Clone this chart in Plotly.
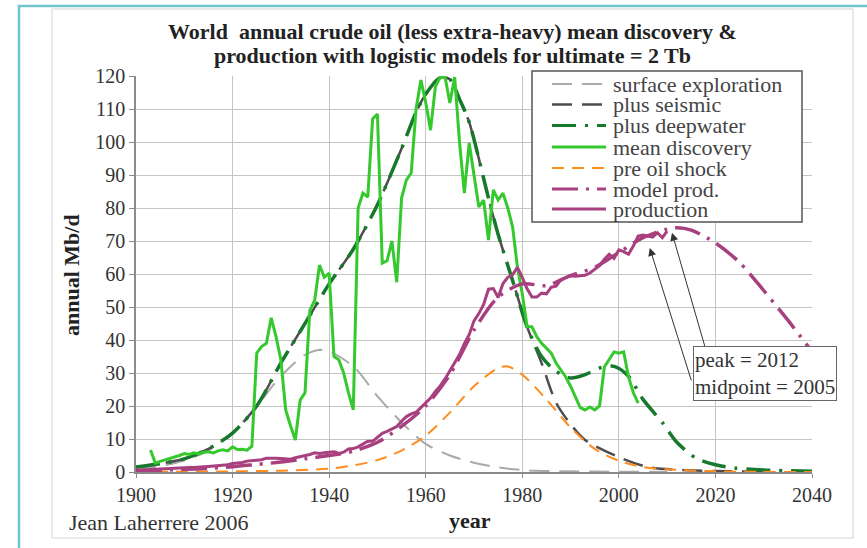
import plotly.graph_objects as go

# ---------------- data ----------------
# logistic model: surface exploration (Mb/d)
surf_years = [1900, 1905, 1910, 1915, 1920, 1925, 1930, 1935, 1939, 1945, 1950, 1955,
              1960, 1965, 1970, 1975, 1980, 1990, 2000, 2010]
surf_vals = [1.0, 1.8, 3.5, 6.5, 12.0, 20.0, 29.0, 35.5, 37.0, 32.0, 23.0, 15.0,
             8.5, 5.0, 2.8, 1.4, 0.6, 0.2, 0.1, 0.05]

# logistic model: plus seismic
seis_years = [1900, 1905, 1910, 1915, 1920, 1925, 1930, 1935, 1940, 1945, 1950, 1955,
              1958, 1960, 1963, 1965, 1967, 1969, 1973, 1975, 1978, 1981, 1984, 1987,
              1990, 1993, 2000, 2006, 2013, 2020, 2030]
seis_vals = [1.5, 2.5, 4.0, 7.0, 11.8, 20.0, 33.0, 45.0, 57.0, 67.5, 81.0, 98.0,
             109.0, 114.5, 119.5, 119.0, 113.0, 106.0, 83.0, 72.0, 58.0, 44.0, 33.0, 21.0,
             14.5, 9.7, 4.5, 1.5, 0.6, 0.3, 0.1]

# logistic model: plus deepwater
deep_years = [1900, 1905, 1910, 1915, 1920, 1925, 1930, 1935, 1940, 1945, 1950, 1955,
              1958, 1960, 1963, 1965, 1967, 1969, 1973, 1975, 1978, 1981, 1984, 1987,
              1990, 1993, 1996, 1999, 2002, 2005, 2009, 2012, 2016, 2020, 2024, 2030, 2040]
deep_vals = [1.5, 2.5, 4.0, 7.0, 11.8, 20.0, 33.0, 45.0, 57.0, 67.5, 81.0, 98.0,
             109.0, 114.5, 119.5, 119.0, 113.0, 106.0, 83.0, 72.0, 58.0, 44.0, 35.0, 30.5,
             28.5, 29.5, 31.5, 32.0, 29.0, 22.0, 15.0, 9.0, 4.2, 2.2, 1.2, 0.6, 0.2]

# mean discovery, yearly
disc_years = list(range(1903, 2005))
disc_vals = [6.7, 2.7, 3.2, 3.6, 4.2, 4.6, 5.0, 5.6, 5.3, 5.8,
             5.5, 6.0, 6.1, 5.8, 6.4, 6.7, 6.4, 7.6, 6.8, 6.9,
             6.6, 7.8, 36.0, 38.0, 39.0, 46.7, 41.0, 34.0, 18.8, 14.0,
             9.7, 21.8, 24.0, 49.0, 52.0, 62.7, 59.0, 60.3, 35.0, 34.0,
             30.0, 24.0, 18.8, 80.0, 84.5, 83.3, 107.0, 108.5, 63.3, 64.0,
             70.0, 57.5, 83.0, 88.5, 90.6, 110.0, 118.8, 112.0, 103.6, 116.7,
             119.7, 119.7, 111.8, 119.7, 100.0, 84.5, 99.7, 90.0, 80.3, 82.4,
             70.3, 85.5, 82.4, 84.5, 80.0, 74.2, 62.0, 54.0, 44.0, 44.0,
             41.0, 39.0, 37.5, 36.0, 33.0, 31.0, 28.8, 26.0, 23.0, 19.5,
             18.8, 19.7, 18.8, 20.0, 31.8, 34.0, 36.4, 36.0, 36.4, 28.8,
             24.0, 20.9]

# pre oil shock model
pre_years = [1900, 1910, 1920, 1930, 1940, 1945, 1950, 1955, 1960, 1965, 1970, 1975,
             1977, 1980, 1985, 1990, 1995, 2000, 2005, 2010, 2020, 2030, 2040]
pre_vals = [0.05, 0.1, 0.2, 0.4, 1.0, 2.0, 3.6, 6.5, 11.0, 18.0, 26.0, 31.5,
            32.0, 29.5, 22.0, 13.5, 7.0, 3.4, 1.5, 0.8, 0.2, 0.05, 0.0]

# model production
model_years = [1900, 1905, 1910, 1915, 1920, 1925, 1930, 1935, 1940, 1945, 1950, 1955,
               1960, 1965, 1970, 1975, 1980, 1985, 1990, 1995, 2000, 2005, 2010, 2012,
               2015, 2020, 2025, 2030, 2035, 2040]
model_vals = [0.3, 0.5, 0.8, 1.1, 1.6, 2.3, 3.0, 4.0, 5.0, 6.3, 9.0, 13.8,
              20.0, 29.5, 43.0, 53.0, 57.0, 56.5, 59.5, 62.0, 66.5, 71.0, 73.6, 74.0,
              73.3, 69.4, 63.5, 55.0, 46.0, 36.5]

# production, yearly
prod_years = list(range(1900, 2011))
prod_vals = [0.5, 0.6, 0.7, 0.8, 0.9, 0.9, 0.9, 1.1, 1.2, 1.2,
             1.3, 1.4, 1.4, 1.6, 1.6, 1.7, 1.8, 1.9, 2.0, 2.2,
             2.6, 2.7, 2.9, 3.3, 3.4, 3.5, 3.7, 4.2, 4.3, 4.2,
             4.1, 4.1, 3.9, 4.3, 4.6, 4.9, 5.3, 5.8, 5.6, 5.8,
             5.9, 6.1, 5.6, 6.0, 7.0, 7.1, 7.6, 8.4, 9.3, 9.3,
             10.4, 11.7, 12.3, 13.1, 13.8, 15.4, 16.8, 17.6, 18.1, 19.5,
             21.0, 22.4, 24.4, 26.1, 28.2, 30.6, 33.3, 35.6, 38.9, 41.6,
             45.8, 48.0, 50.8, 55.4, 55.6, 52.9, 57.1, 59.0, 59.8, 62.0,
             59.0, 55.5, 53.0, 53.0, 54.2, 54.0, 56.0, 56.3, 58.3, 59.0,
             59.5, 59.3, 59.5, 59.6, 60.3, 61.5, 62.5, 64.5, 66.0, 64.7,
             67.3, 66.8, 66.0, 68.5, 71.5, 71.8, 71.5, 71.2, 72.5, 71.0,
             73.0]

x_ticks = [1900, 1920, 1940, 1960, 1980, 2000, 2020, 2040]
y_ticks = [0, 10, 20, 30, 40, 50, 60, 70, 80, 90, 100, 110, 120]

legend_names = ["surface exploration", "plus seismic", "plus deepwater", "mean discovery",
                "pre oil shock", "model prod.", "production"]

# ---------------- styles ----------------
SERIF = "Liberation Serif, Times New Roman, serif"
C_SURF = "#a9a9a9"
C_SEIS = "#4d4d4d"
C_DEEP = "#17792c"
C_DISC = "#35c92e"
C_PRE = "#ff8c1e"
C_PROD = "#a8407f"

styles = [
    dict(color=C_SURF, width=2, dash="20px,10px"),
    dict(color=C_SEIS, width=2.5, dash="20px,10px"),
    dict(color=C_DEEP, width=3.5, dash="24px,9px,3px,9px"),
    dict(color=C_DISC, width=3, dash="solid"),
    dict(color=C_PRE, width=2, dash="12px,8px"),
    dict(color=C_PROD, width=3.5, dash="26px,8px,3px,8px"),
    dict(color=C_PROD, width=3, dash="solid"),
]

fig = go.Figure()
series = [
    (surf_years, surf_vals, True),
    (seis_years, seis_vals, True),
    (deep_years, deep_vals, True),
    (disc_years, disc_vals, False),
    (pre_years, pre_vals, True),
    (model_years, model_vals, True),
    (prod_years, prod_vals, False),
]
for (xs, ys, smooth), st, name in zip(series, styles, legend_names):
    fig.add_trace(go.Scatter(
        x=xs, y=ys, mode="lines", name=name, showlegend=False,
        line=dict(color=st["color"], width=st["width"], dash=st["dash"],
                  shape="spline" if smooth else "linear", smoothing=0.8),
        hoverinfo="x+y+name",
    ))

# ---------------- layout geometry (pixels) ----------------
W, H = 867, 548
L, R, T, B = 136, 812, 76, 472


def px(x):
    return (x - L) / (R - L)


def py(y):
    return (B - y) / (B - T)


shapes = []
annotations = []

# outer teal frame and inner chart box
shapes.append(dict(type="path", xref="paper", yref="paper",
                   path=f"M {px(19)},{py(560)} L {px(19)},{py(6)} L {px(880)},{py(6)}",
                   line=dict(color="#6fc6cc", width=2.5), layer="below"))
shapes.append(dict(type="rect", xref="paper", yref="paper",
                   x0=px(52), y0=py(538), x1=px(853), y1=py(9),
                   line=dict(color="#d4d4d4", width=1), fillcolor="rgba(0,0,0,0)", layer="below"))

# legend box
shapes.append(dict(type="rect", xref="paper", yref="paper",
                   x0=px(532), y0=py(222), x1=px(802), y1=py(71),
                   line=dict(color="#555555", width=1.5), fillcolor="white", layer="above"))
row_y = [84, 104.5, 125.5, 147, 168, 189, 209]
for name, st, ry in zip(legend_names, styles, row_y):
    shapes.append(dict(type="line", xref="paper", yref="paper",
                       x0=px(552), x1=px(606), y0=py(ry), y1=py(ry),
                       line=dict(color=st["color"], width=min(st["width"], 3), dash=st["dash"]),
                       layer="above"))
    annotations.append(dict(xref="paper", yref="paper", x=px(611), y=py(ry),
                            xanchor="left", yanchor="middle", text=name, showarrow=False,
                            font=dict(family=SERIF, size=22, color="#444444")))

# title, two lines
annotations.append(dict(xref="paper", yref="paper", x=px(452), y=py(31), xanchor="center",
                        yanchor="middle", showarrow=False,
                        text="<b>World  annual crude oil (less extra-heavy) mean discovery &amp;</b>",
                        font=dict(family=SERIF, size=22, color="#222222")))
annotations.append(dict(xref="paper", yref="paper", x=px(452), y=py(56), xanchor="center",
                        yanchor="middle", showarrow=False,
                        text="<b>production with logistic models for ultimate = 2 Tb</b>",
                        font=dict(family=SERIF, size=22, color="#222222")))

# axis titles and credit
annotations.append(dict(xref="paper", yref="paper", x=px(71), y=py(275), xanchor="center",
                        yanchor="middle", showarrow=False, textangle=-90,
                        text="<b>annual Mb/d</b>",
                        font=dict(family=SERIF, size=22, color="#222222")))
annotations.append(dict(xref="paper", yref="paper", x=px(470), y=py(520), xanchor="center",
                        yanchor="middle", showarrow=False, text="<b>year</b>",
                        font=dict(family=SERIF, size=22, color="#222222")))
annotations.append(dict(xref="paper", yref="paper", x=px(67), y=py(522), xanchor="left",
                        yanchor="middle", showarrow=False, text="Jean Laherrere 2006",
                        font=dict(family=SERIF, size=22, color="#333333")))

# peak / midpoint note with arrows
annotations.append(dict(xref="x", yref="y", x=2011, y=72.5, axref="x", ayref="y",
                        ax=2018.2, ay=36.1, text="", showarrow=True, arrowhead=2,
                        arrowsize=1.6, arrowwidth=1, arrowcolor="#333333"))
annotations.append(dict(xref="x", yref="y", x=2006.4, y=67.9, axref="x", ayref="y",
                        ax=2015.1, ay=27.3, text="", showarrow=True, arrowhead=2,
                        arrowsize=1.6, arrowwidth=1, arrowcolor="#333333"))
annotations.append(dict(xref="paper", yref="paper", x=px(693), y=py(373), xanchor="left",
                        yanchor="middle", showarrow=False, align="left",
                        text="peak = 2012<br>midpoint = 2005",
                        font=dict(family=SERIF, size=21, color="#333333"),
                        bordercolor="#666666", borderwidth=1, borderpad=1, bgcolor="white"))

fig.update_layout(
    width=W, height=H,
    margin=dict(l=L, r=W - R, t=T, b=H - B),
    paper_bgcolor="white", plot_bgcolor="white",
    showlegend=False,
    shapes=shapes, annotations=annotations,
    font=dict(family=SERIF, size=20, color="#333333"),
)
fig.update_xaxes(range=[1900, 2040], tickvals=x_ticks, ticktext=[str(v) for v in x_ticks],
                 showgrid=True, gridcolor="#c4c4c4", gridwidth=1,
                 showline=True, linecolor="#8a8a8a", linewidth=1.5, mirror=False,
                 ticks="outside", ticklen=4, tickcolor="#8a8a8a",
                 tickfont=dict(family=SERIF, size=20, color="#333333"), zeroline=False)
fig.update_yaxes(range=[0, 120], tickvals=y_ticks, ticktext=[str(v) for v in y_ticks],
                 showgrid=True, gridcolor="#c4c4c4", gridwidth=1,
                 showline=True, linecolor="#8a8a8a", linewidth=1.5,
                 ticks="outside", ticklen=5, tickcolor="#8a8a8a",
                 tickfont=dict(family=SERIF, size=20, color="#333333"), zeroline=False)

fig.write_html("out.html")
